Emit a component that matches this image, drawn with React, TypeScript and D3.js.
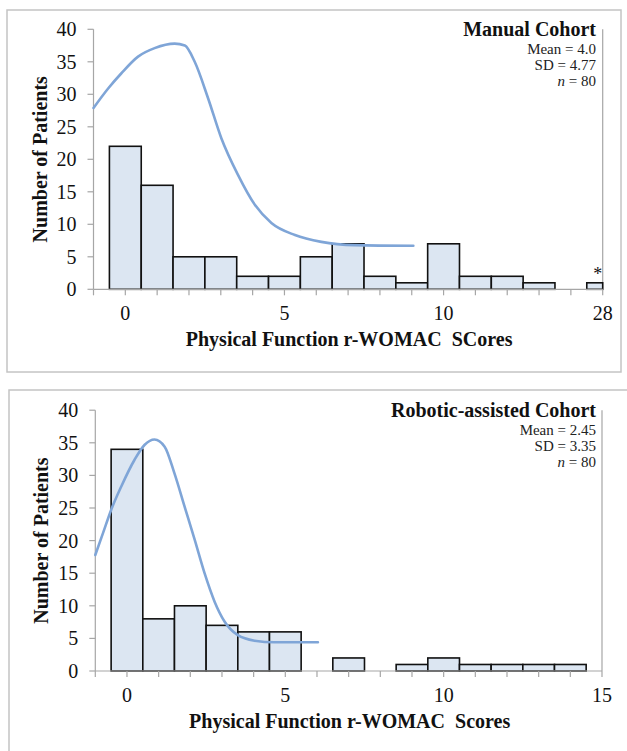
import React from 'react';
import * as d3 from 'd3';

// Histogram counts per score bin (bin index = position on the x axis)
const manualCounts = [22, 16, 5, 5, 2, 2, 5, 7, 2, 1, 7, 2, 2, 1, 0, 1];
const roboticCounts = [34, 8, 10, 7, 6, 6, 0, 2, 0, 1, 2, 1, 1, 1, 1];

// Labelled ticks on the x axis
const manualTickPos = [0, 5, 10, 15];
const manualTickLabels = ['0', '5', '10', '28'];
const roboticTickPos = [0, 5, 10, 15];
const roboticTickLabels = ['0', '5', '10', '15'];

const yTicks = [0, 5, 10, 15, 20, 25, 30, 35, 40];

// Fitted curves
const manualCurveX = [-1.0, -0.54, -0.13, 0.4, 0.92, 1.55, 1.87, 2.18, 2.6, 3.02, 3.54, 4.07, 4.59, 5.33, 6.16, 7.21, 9.05];
const manualCurveY = [27.9, 30.9, 33.2, 35.8, 37.1, 37.8, 37.5, 35.0, 29.4, 23.2, 17.6, 13.0, 10.2, 8.35, 7.3, 6.8, 6.7];
const roboticCurveX = [-1.0, -0.76, -0.5, -0.18, 0.24, 0.56, 0.87, 1.19, 1.5, 1.82, 2.14, 2.45, 2.77, 3.08, 3.5, 4.03, 4.66, 6.03];
const roboticCurveY = [17.8, 21.1, 24.7, 28.3, 32.4, 34.7, 35.5, 34.4, 30.3, 25.2, 20.1, 15.0, 10.6, 7.6, 5.5, 4.65, 4.4, 4.4];

const manualStats = ['Mean = 4.0', 'SD = 4.77', '80'];
const roboticStats = ['Mean = 2.45', 'SD = 3.35', '80'];

const FONT = '"Liberation Serif", "Times New Roman", serif';
const BAR_FILL = '#dce6f2';
const CURVE = '#7fa5d7';
const AXIS = '#a6a6a6';

const Panel = ({ counts, tickPos, tickLabels, curveX, curveY, stats, title, xTitle, frame, xRange, yRange, star }) => {
  const x = d3.scaleLinear().domain([-1, 15]).range(xRange);
  const y = d3.scaleLinear().domain([0, 40]).range(yRange);
  const [left, right] = xRange;
  const [bottom, top] = yRange;

  const line = d3
    .line()
    .x((d) => x(d[0]))
    .y((d) => y(d[1]))
    .curve(d3.curveMonotoneX);
  const curvePts = curveX.map((v, i) => [v, curveY[i]]);

  const xTickVals = d3.range(-1, 16);
  const midX = (left + right) / 2 - 3;

  return (
    <g>
      <rect x={frame[0]} y={frame[1]} width={frame[2]} height={frame[3]} fill='white' stroke='#c4c4c4' strokeWidth={1.5} />

      {/* axis lines */}
      <line x1={left} x2={left} y1={top} y2={bottom} stroke={AXIS} strokeWidth={1.2} />
      <line x1={right} x2={right} y1={top} y2={bottom} stroke={AXIS} strokeWidth={1.2} />
      {yTicks.map((t) => (
        <g key={'y' + t}>
          <line x1={left - 6} x2={left} y1={y(t)} y2={y(t)} stroke={AXIS} strokeWidth={1.2} />
          <text x={left - 17} y={y(t)} dy='0.35em' textAnchor='end' fontSize={20} fontFamily={FONT} fill='#111'>
            {t}
          </text>
        </g>
      ))}

      {/* bars */}
      {counts.map((c, i) => {
        if (!c) return null;
        const x0 = x(Math.max(i - 0.5, -1));
        const x1 = x(Math.min(i + 0.5, 15));
        return (
          <rect key={'b' + i} x={x0} y={y(c)} width={x1 - x0} height={y(0) - y(c)} fill={BAR_FILL} stroke='#111' strokeWidth={1.6} />
        );
      })}

      <line x1={left} x2={right} y1={bottom} y2={bottom} stroke={AXIS} strokeWidth={1.2} />
      {xTickVals.map((t) => (
        <line key={'x' + t} x1={x(t)} x2={x(t)} y1={bottom} y2={bottom + 6} stroke={AXIS} strokeWidth={1.2} />
      ))}
      {tickPos.map((p, i) => (
        <text key={'xl' + p} x={x(p)} y={bottom + 31} textAnchor='middle' fontSize={20} fontFamily={FONT} fill='#111'>
          {tickLabels[i]}
        </text>
      ))}

      {star && (
        <text x={x(15) - 5} y={y(1) - 3} textAnchor='middle' fontSize={18} fontFamily={FONT} fill='#111'>
          *
        </text>
      )}

      <path d={line(curvePts)} fill='none' stroke={CURVE} strokeWidth={2.6} strokeLinecap='round' />

      {/* cohort label and stats */}
      <text x={596} y={top + 7} textAnchor='end' fontSize={20} fontWeight='bold' fontFamily={FONT} fill='#111'>
        {title}
      </text>
      <text x={596} y={top + 25} textAnchor='end' fontSize={15} fontFamily={FONT} fill='#222'>
        {stats[0]}
      </text>
      <text x={596} y={top + 41} textAnchor='end' fontSize={15} fontFamily={FONT} fill='#222'>
        {stats[1]}
      </text>
      <text x={596} y={top + 57} textAnchor='end' fontSize={15} fontFamily={FONT} fill='#222'>
        <tspan fontStyle='italic'>n</tspan> = {stats[2]}
      </text>

      {/* axis titles */}
      <text
        transform={`translate(${left - 47},${(top + bottom) / 2}) rotate(-90)`}
        textAnchor='middle'
        fontSize={20}
        fontWeight='bold'
        fontFamily={FONT}
        fill='#111'
      >
        Number of Patients
      </text>
      <text x={midX + 4} y={bottom + 57} textAnchor='middle' fontSize={20} fontWeight='bold' fontFamily={FONT} fill='#111' style={{ whiteSpace: 'pre' }}>
        {xTitle}
      </text>
    </g>
  );
};

const App = () => {
  return (
    <svg width={627} height={751} style={{ position: 'absolute', left: 0, top: 0, background: 'white' }}>
      <rect width={627} height={751} fill='white' />
      <Panel
        counts={manualCounts}
        tickPos={manualTickPos}
        tickLabels={manualTickLabels}
        curveX={manualCurveX}
        curveY={manualCurveY}
        stats={manualStats}
        title='Manual Cohort'
        xTitle='Physical Function r-WOMAC  SCores'
        frame={[7, 10, 614, 362]}
        xRange={[93.5, 602.7]}
        yRange={[289.3, 29.3]}
        star
      />
      <Panel
        counts={roboticCounts}
        tickPos={roboticTickPos}
        tickLabels={roboticTickLabels}
        curveX={roboticCurveX}
        curveY={roboticCurveY}
        stats={roboticStats}
        title='Robotic-assisted Cohort'
        xTitle='Physical Function r-WOMAC  Scores'
        frame={[9, 390, 630, 400]}
        xRange={[95.3, 602]}
        yRange={[671, 410.2]}
        star={false}
      />
    </svg>
  );
};

export default App;
